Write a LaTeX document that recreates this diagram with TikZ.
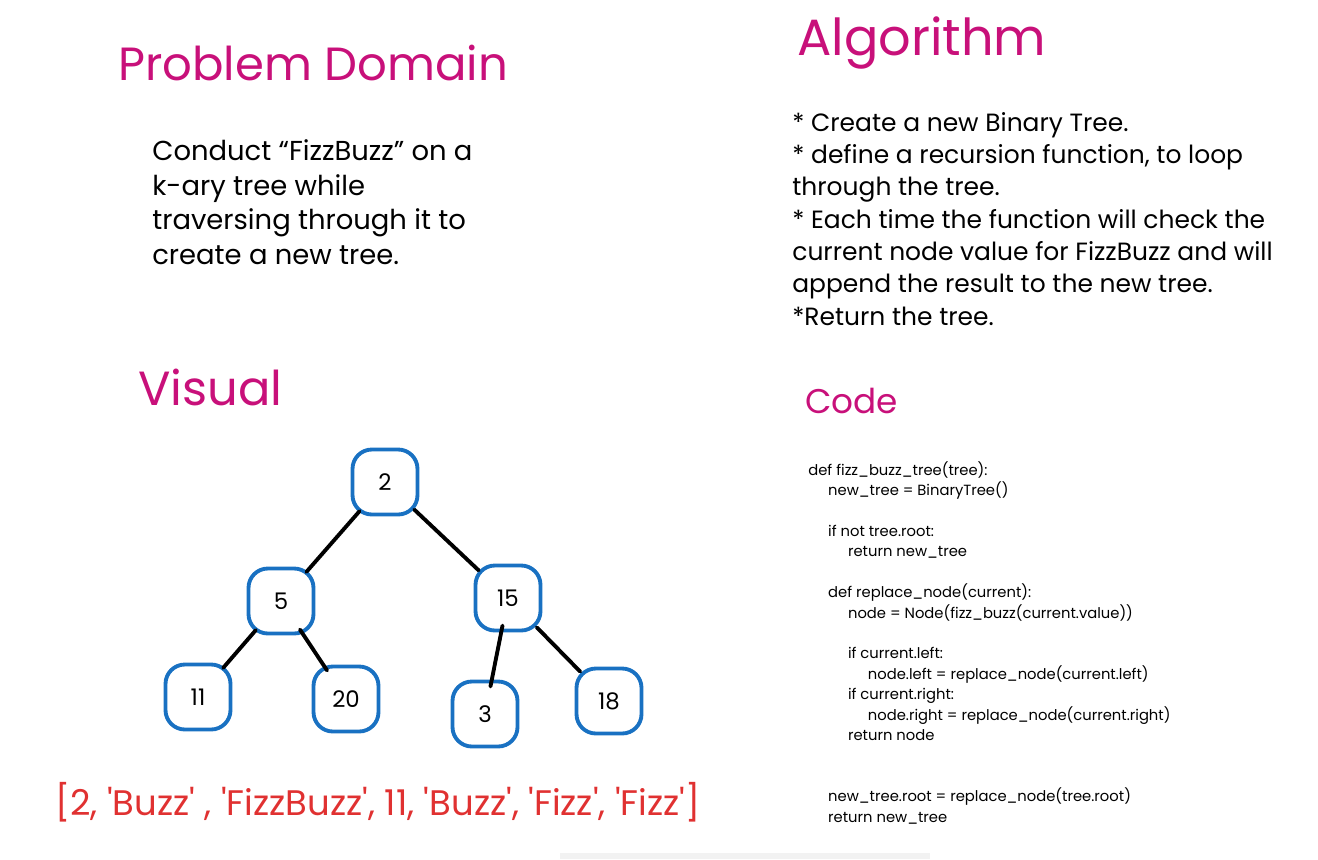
\documentclass[tikz,border=0pt]{standalone}
\usepackage{fontspec}
\setmainfont{Poppins}
\newfontfamily\handfont{Poppins}
\usetikzlibrary{positioning}
\definecolor{pink}{HTML}{C8107A}
\definecolor{treeblue}{HTML}{1971C2}
\definecolor{listred}{HTML}{E03131}
\newcommand{\ind}[1]{\hspace*{#1\dimexpr 11.3pt\relax}}

\begin{document}
\begin{tikzpicture}[x=0.02cm, y=-0.02cm, every node/.style={inner sep=0pt},
  heading/.style={text=pink, anchor=base west},
  prose/.style={anchor=north west, align=left},
  treenode/.style={draw=treeblue, line width=2.2pt, rounded corners=11pt, minimum size=1.3cm, font=\fontsize{13}{15}\selectfont},
  edge/.style={line width=2.2pt, line cap=round, shorten <=-4pt, shorten >=-4pt}]
\useasboundingbox (0,0) rectangle (1318,859);

% headings
\node[heading, font=\fontsize{26.5}{30}\selectfont] (pdtitle) at (118,80) {Problem Domain};
\node[heading, font=\fontsize{29}{34}\selectfont] (algtitle) at (797,55) {Algorithm};
\node[heading, font=\fontsize{27.3}{31}\selectfont] (vistitle) at (138,405) {Visual};
\node[heading, font=\fontsize{19.5}{23}\selectfont] (codetitle) at (805,413) {Code};

% problem domain
\node[prose, font=\fontsize{15.6}{19.8}\selectfont] (pdtext) at (152,139)
  {Conduct “FizzBuzz” on a\\k-ary tree while\\traversing through it to\\create a new tree.};

% algorithm
\node[prose, font=\fontsize{14.2}{18.4}\selectfont] (algtext) at (792,112)
  {* Create a new Binary Tree.\\* define a recursion function, to loop\\through the tree.\\* Each time the function will check the\\current node value for FizzBuzz and will\\append the result to the new tree.\\*Return the tree.};

% tree
\node[treenode] (n2) at (385,482) {2};
\node[treenode] (n5) at (281,601) {5};
\node[treenode] (n15) at (508,598) {15};
\node[treenode] (n11) at (198,697) {11};
\node[treenode] (n20) at (346,699) {20};
\node[treenode] (n3) at (485,714) {3};
\node[treenode] (n18) at (609,701) {18};
\draw[edge] (n2) -- (n5);
\draw[edge] (n2) -- (n15);
\draw[edge] (n5) -- (n11);
\draw[edge] (n5) -- (n20);
\draw[edge] (n15) -- (n3);
\draw[edge] (n15) -- (n18);

% result list
\node[anchor=base west, text=listred, font=\handfont\fontsize{20.2}{24}\selectfont] (result) at (55,815)
  {[2, 'Buzz' , 'FizzBuzz', 11, 'Buzz', 'Fizz', 'Fizz']};

% code
\node[prose, font=\handfont\fontsize{8.4}{11.62}\selectfont] (code) at (808,461)
  {def fizz\_buzz\_tree(tree):\\
   \ind{1}new\_tree = BinaryTree()\\
   \mbox{}\\
   \ind{1}if not tree.root:\\
   \ind{2}return new\_tree\\
   \mbox{}\\
   \ind{1}def replace\_node(current):\\
   \ind{2}node = Node(fizz\_buzz(current.value))\\
   \mbox{}\\
   \ind{2}if current.left:\\
   \ind{3}node.left = replace\_node(current.left)\\
   \ind{2}if current.right:\\
   \ind{3}node.right = replace\_node(current.right)\\
   \ind{2}return node\\
   \mbox{}\\
   \mbox{}\\
   \ind{1}new\_tree.root = replace\_node(tree.root)\\
   \ind{1}return new\_tree};

% faint shadow at the bottom edge
\fill[black!5] (560,853) rectangle (930,859);
\end{tikzpicture}
\end{document}
